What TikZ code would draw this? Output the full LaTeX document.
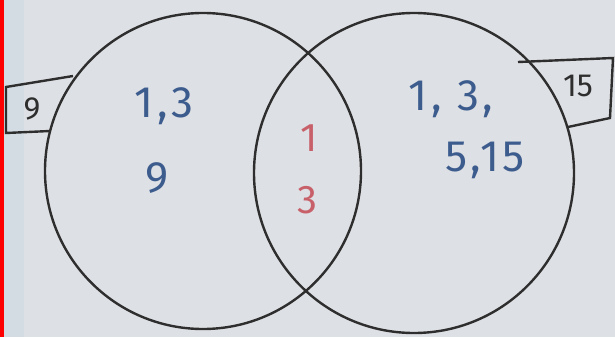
\documentclass[tikz,border=0pt]{standalone}
\usepackage{fontspec}
\setmainfont{Fira Sans}
\definecolor{bg}{HTML}{DDE0E4}
\definecolor{strip}{HTML}{D2DCE2}
\definecolor{inkblue}{HTML}{3D5C8E}
\definecolor{inkred}{HTML}{C8606A}
\definecolor{pen}{HTML}{2E2E2E}
\begin{document}
\begin{tikzpicture}[x=1pt,y=-1pt,
  outline/.style={draw=pen,line width=2.4pt},
  bluetxt/.style={text=inkblue,font=\fontsize{44}{48}\selectfont\addfontfeature{LetterSpace=8}},
  redtxt/.style={text=inkred,font=\fontsize{40}{44}\selectfont},
  tabtxt/.style={text=pen,font=\fontsize{32}{34}\selectfont}]
\useasboundingbox (0,0) rectangle (615,337);
\fill[bg] (0,0) rectangle (615,337);
\fill[strip] (4,0) rectangle (24,337);
\fill[red] (0,0) rectangle (4,337);
% tabs
\coordinate (l1) at (73,76); \coordinate (l2) at (6,87); \coordinate (l3) at (6,133); \coordinate (l4) at (50,131);
\draw[outline] (l1) -- (l2) -- (l3) -- (l4);
\coordinate (r1) at (518,62); \coordinate (r2) at (613,58); \coordinate (r3) at (610,118); \coordinate (r4) at (568,127);
\draw[outline] (r1) -- (r2) -- (r3) -- (r4);
% circles
\node[outline,circle,minimum size=316pt,inner sep=0pt] (A) at (203,171) {};
\node[outline,circle,minimum size=320pt,inner sep=0pt] (B) at (414,173) {};
% texts
\node[bluetxt] (a1) at (164,106) {1,3};
\node[bluetxt] (a2) at (157,178) {9};
\node[redtxt] (c1) at (309,138) {1};
\node[redtxt] (c2) at (307,200) {3};
\node[bluetxt] (b1) at (451,99) {1, 3,};
\node[bluetxt] (b2) at (485,160) {5,15};
\node[tabtxt] (t9) at (32,109) {9};
\node[tabtxt] (t15) at (578,86) {15};
\end{tikzpicture}
\end{document}
